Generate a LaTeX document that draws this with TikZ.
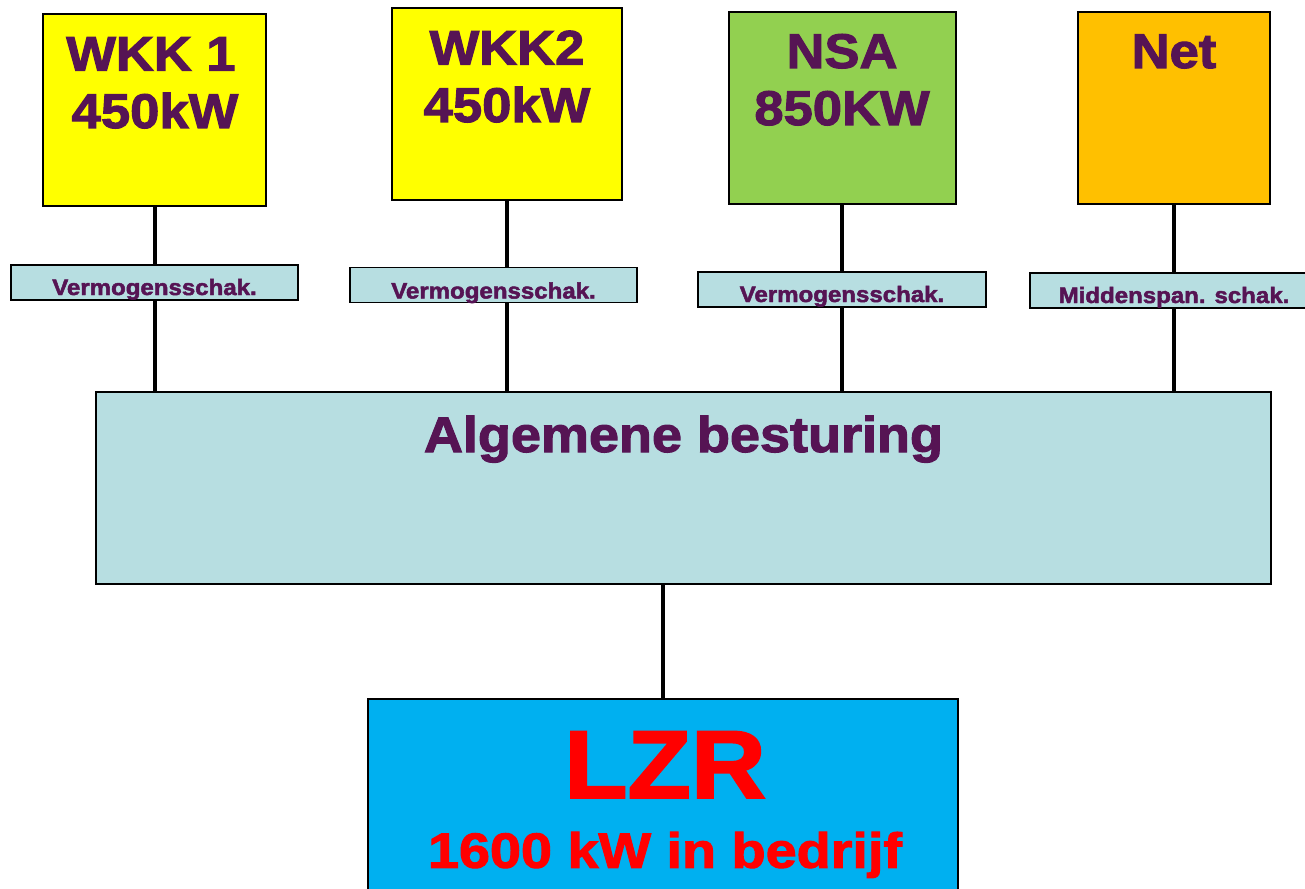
\documentclass[tikz,border=0pt]{standalone}
\usepackage{fontspec}
\newfontfamily\hv[FakeStretch=1.08,BoldFeatures={FakeStretch=1.08,FakeBold=2.2}]{Liberation Sans}
\newfontfamily\hvw[FakeStretch=1.13,BoldFeatures={FakeStretch=1.13,FakeBold=2.2}]{Liberation Sans}
\definecolor{txtpurple}{RGB}{86,20,84}
\definecolor{boxyellow}{RGB}{255,255,0}
\definecolor{boxgreen}{RGB}{146,208,80}
\definecolor{boxorange}{RGB}{255,192,0}
\definecolor{boxlight}{RGB}{183,222,225}
\definecolor{boxcyan}{RGB}{0,176,240}
\definecolor{txtred}{RGB}{255,0,0}
\def\u{0.75pt}
\tikzset{
  box/.style={draw=black, line width=1.3pt, inner sep=0pt, minimum width=#1*\u},
  bigbox/.style={box=#1, minimum height=192*\u},
  swbox/.style={box=#1, minimum height=35*\u, fill=boxlight},
  conn/.style={line width=3pt, line cap=butt},
  bigtxt/.style={anchor=base, inner sep=0pt, text=txtpurple, font=\hv\bfseries\fontsize{36.5pt}{40pt}\selectfont},
  swtxt/.style={anchor=base, inner sep=0pt, text=txtpurple, font=\hv\bfseries\fontsize{16.7pt}{18pt}\selectfont},
}
\begin{document}
\begin{tikzpicture}[x=0.75pt,y=-0.75pt]
\useasboundingbox (0,0) rectangle (1305,888);
% source boxes
\node[bigbox=223, fill=boxyellow] (wkk1) at (154.5,110) {};
\node[bigbox=230, fill=boxyellow] (wkk2) at (507,104) {};
\node[bigbox=227, fill=boxgreen] (nsa) at (842.5,108) {};
\node[bigbox=192, fill=boxorange] (net) at (1174,108) {};
% switch boxes
\node[swbox=287] (s1) at (154.5,282.5) {};
\node[swbox=287] (s2) at (493.5,285) {};
\node[swbox=288] (s3) at (842,289.5) {};
\node[swbox=288] (s4) at (1174,290.5) {};
% control bus
\node[box=1175, minimum height=192*\u, fill=boxlight] (bus) at (683.5,488) {};
% LZR
\node[box=590, minimum height=201*\u, fill=boxcyan] (lzr) at (663,799.5) {};
% connectors
\coordinate (c1) at (155,0);
\coordinate (c2) at (507,0);
\coordinate (c3) at (842,0);
\coordinate (c4) at (1174,0);
\foreach \c/\b/\s in {c1/wkk1/s1, c2/wkk2/s2, c3/nsa/s3, c4/net/s4}{
  \draw[conn] (\c |- \b.south) -- (\c |- \s.north);
  \draw[conn] (\c |- \s.south) -- (\c |- bus.north);
}
\draw[conn] (lzr.north |- bus.south) -- (lzr.north);
% texts
\node[bigtxt] (t1a) at (151,70.7) {WKK 1};
\node[bigtxt] (t1b) at (155,128) {450kW};
\node[bigtxt] (t2a) at (507,64.7) {WKK2};
\node[bigtxt] (t2b) at (507,122) {450kW};
\node[bigtxt] (t3a) at (842,68) {NSA};
\node[bigtxt] (t3b) at (842,125) {850KW};
\node[bigtxt] (t4a) at (1174,68) {Net};
\node[swtxt] (st1) at (154.5,295) {Vermogensschak.};
\node[swtxt] (st2) at (493.5,298.5) {Vermogensschak.};
\node[swtxt] (st3) at (842,302) {Vermogensschak.};
\node[swtxt] (st4) at (1174,303) {Middenspan. schak.};
\node[bigtxt, font=\hv\bfseries\fontsize{37.5pt}{40pt}\selectfont] (tbus) at (683.5,452) {Algemene besturing};
\node[anchor=base, inner sep=0pt, text=txtred, font=\hv\bfseries\fontsize{72pt}{80pt}\selectfont] (tlzr) at (665,797.7) {LZR};
\node[anchor=base, inner sep=0pt, text=txtred, font=\hvw\bfseries\fontsize{37pt}{40pt}\selectfont] (tlzr2) at (665,867.7) {1600 kW in bedrijf};
\end{tikzpicture}
\end{document}
